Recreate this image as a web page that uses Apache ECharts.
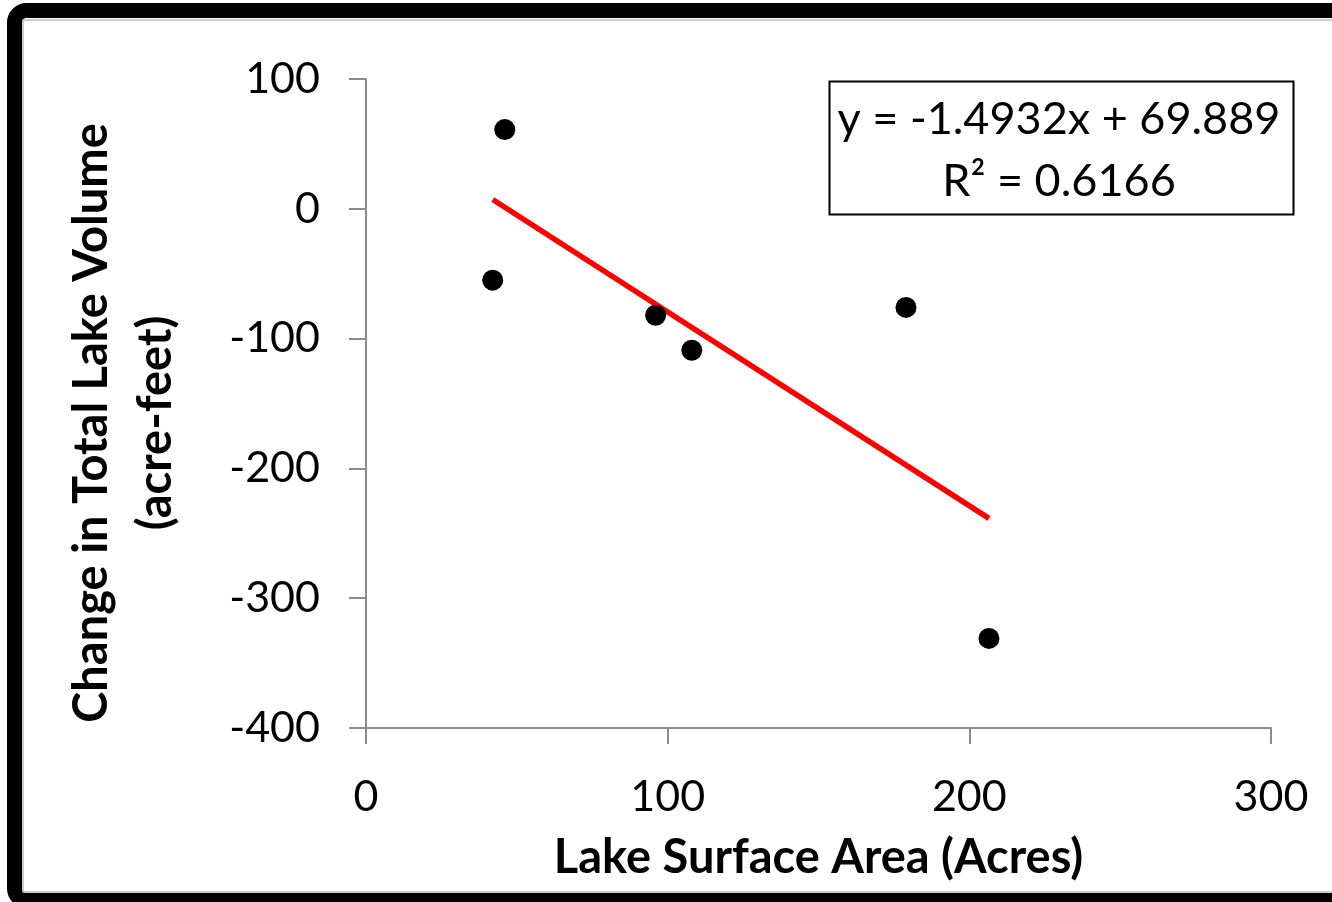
<!DOCTYPE html>
<html>
<head>
<meta charset="utf-8">
<script src="https://cdn.jsdelivr.net/npm/echarts@6/dist/echarts.min.js"></script>
<style>
  html, body { margin: 0; padding: 0; background: #fff; }
  #chart { width: 1332px; height: 902px; }
</style>
</head>
<body>
<div id="chart"></div>
<script>
// lake data
const areaAcres = [46, 42, 96, 108, 179, 206.5]
const volumeChange = [61, -55, -82, -109, -76, -331]
// trend line end points (min x .. max x)
const trendX = [42, 206.5]
const trendY = [7.2, -238.5]
const equationText = 'y = -1.4932x + 69.889'
const r2Text = 'R² = 0.6166'

const points = areaAcres.map((x, i) => [x, volumeChange[i]])
const trend = trendX.map((x, i) => [x, trendY[i]])

const font = 'Lato, "Open Sans", sans-serif'
const chart = echarts.init(document.getElementById('chart'))
const option = {
  animation: false,
  backgroundColor: '#fff',
  grid: { left: 366, right: 61, top: 79, bottom: 174 },
  xAxis: {
    type: 'value',
    min: 0,
    max: 300,
    interval: 100,
    name: 'Lake Surface Area (Acres)',
    nameLocation: 'middle',
    nameGap: 106,
    nameTextStyle: { fontFamily: font, fontSize: 47, fontWeight: 'bold', color: '#000' },
    axisLine: { onZero: false, lineStyle: { color: '#8c8c8c', width: 2 } },
    axisTick: { inside: false, length: 16, lineStyle: { color: '#8c8c8c', width: 2 } },
    axisLabel: { fontFamily: font, fontSize: 43, color: '#000', margin: 48 },
    splitLine: { show: false }
  },
  yAxis: {
    type: 'value',
    min: -400,
    max: 100,
    interval: 100,
    axisLine: { show: true, onZero: false, lineStyle: { color: '#8c8c8c', width: 2 } },
    axisTick: { show: true, length: 17, lineStyle: { color: '#8c8c8c', width: 2 } },
    axisLabel: { fontFamily: font, fontSize: 43, color: '#000', margin: 46 },
    splitLine: { show: false }
  },
  graphic: [
    {
      type: 'rect',
      silent: true,
      shape: { x: 14.5, y: 10.5, width: 1400, height: 890, r: 12 },
      style: { fill: 'none', stroke: '#000', lineWidth: 15 }
    },
    {
      type: 'rect',
      silent: true,
      shape: { x: 23, y: 20, width: 1400, height: 872 },
      style: { fill: 'none', stroke: '#bdbdbd', lineWidth: 1.5 }
    },
    {
      type: 'text',
      x: 124,
      y: 423,
      rotation: Math.PI / 2,
      style: {
        text: 'Change in Total Lake Volume\n(acre-feet)',
        font: 'bold 47px ' + font,
        fill: '#000',
        align: 'center',
        verticalAlign: 'middle',
        lineHeight: 64
      }
    },
    {
      type: 'rect',
      silent: true,
      shape: { x: 829.5, y: 81.5, width: 464, height: 133 },
      style: { fill: '#fff', stroke: '#000', lineWidth: 2 }
    },
    {
      type: 'text',
      x: 1059,
      y: 150,
      style: {
        text: equationText + '\n' + r2Text,
        font: '45px ' + font,
        fill: '#000',
        align: 'center',
        verticalAlign: 'middle',
        lineHeight: 62
      }
    }
  ],
  series: [
    {
      type: 'line',
      data: trend,
      symbol: 'none',
      lineStyle: { color: '#ff0000', width: 5.5 },
      z: 2
    },
    {
      type: 'scatter',
      data: points,
      symbol: 'circle',
      symbolSize: 21,
      itemStyle: { color: '#000', opacity: 1 },
      z: 3
    }
  ]
}
if (option && typeof option === 'object') {
  chart.setOption(option, true)
}
</script>
</body>
</html>
